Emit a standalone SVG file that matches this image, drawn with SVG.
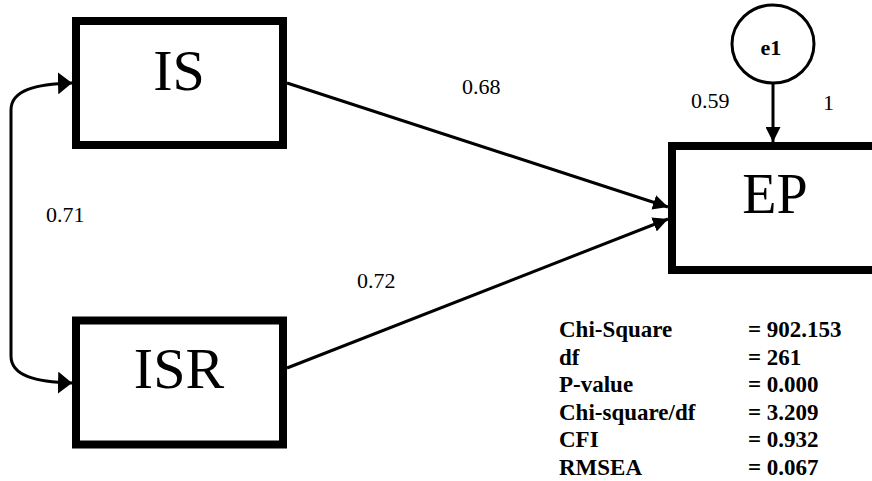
<svg xmlns="http://www.w3.org/2000/svg" width="872" height="481" viewBox="0 0 872 481">
  <style>
    .box { fill: #ffffff; stroke: #000000; stroke-width: 8; }
    .latent { fill: #ffffff; stroke: #000000; stroke-width: 3; }
    text { font-family: 'Liberation Serif', 'Tinos', 'DejaVu Serif', Times, serif; fill: #000000; }
    .name { text-anchor: middle; }
    .coef { font-size: 22px; }
    .fit { font-size: 23px; font-weight: bold; }
    .edge { fill: none; stroke: #000000; stroke-width: 3; }
  </style>
  <defs>
    <marker id="arrow" viewBox="0 0 15 15" refX="15" refY="7.5" markerWidth="15" markerHeight="15" markerUnits="userSpaceOnUse" orient="auto">
      <path d="M0,0 L15,7.5 L0,15 Z" fill="#000000"/>
    </marker>
    <marker id="arrowWide" viewBox="0 0 14 22" refX="14" refY="11" markerWidth="14" markerHeight="22" markerUnits="userSpaceOnUse" orient="auto-start-reverse">
      <path d="M0,0 L14,11 L0,22 Z" fill="#000000"/>
    </marker>
  </defs>

  <rect width="872" height="481" fill="#ffffff"/>

  <!-- connectors -->
  <g id="connectors">
    <path class="edge" d="M72,83 C36,84 11,90 11,110 L11,356 C11,376 36,382 72,383" marker-start="url(#arrowWide)" marker-end="url(#arrowWide)"/>
    <line class="edge" x1="287" y1="83" x2="668" y2="207" marker-end="url(#arrow)"/>
    <line class="edge" x1="287" y1="368" x2="668" y2="219" marker-end="url(#arrow)"/>
    <line class="edge" x1="773" y1="83" x2="773" y2="142" marker-end="url(#arrow)"/>
  </g>

  <!-- nodes -->
  <g id="node-IS">
    <rect class="box" x="76" y="21" width="207" height="124"/>
    <text class="name" x="179" y="90" font-size="58">IS</text>
  </g>
  <g id="node-ISR">
    <rect class="box" x="76" y="320.5" width="207" height="124"/>
    <text class="name" x="179" y="388" font-size="58">ISR</text>
  </g>
  <g id="node-EP">
    <rect class="box" x="672" y="146" width="212" height="124"/>
    <text class="name" x="775" y="213" font-size="56">EP</text>
  </g>
  <g id="node-e1">
    <ellipse class="latent" cx="773" cy="44" rx="41" ry="39"/>
    <text class="name" x="771" y="55" font-size="22" font-weight="bold">e1</text>
  </g>

  <!-- path coefficients -->
  <g id="coefficients">
    <text class="coef" x="462" y="94">0.68</text>
    <text class="coef" x="357" y="288">0.72</text>
    <text class="coef" x="46" y="222">0.71</text>
    <text class="coef" x="691" y="108">0.59</text>
    <text class="coef" x="823" y="110">1</text>
  </g>

  <!-- model fit summary -->
  <g id="fit-indices">
    <text class="fit" x="559" y="337">Chi-Square</text>
    <text class="fit" x="748" y="337">= 902.153</text>
    <text class="fit" x="559" y="364.5">df</text>
    <text class="fit" x="748" y="364.5">= 261</text>
    <text class="fit" x="559" y="392">P-value</text>
    <text class="fit" x="748" y="392">= 0.000</text>
    <text class="fit" x="559" y="419.5">Chi-square/df</text>
    <text class="fit" x="748" y="419.5">= 3.209</text>
    <text class="fit" x="559" y="447">CFI</text>
    <text class="fit" x="748" y="447">= 0.932</text>
    <text class="fit" x="559" y="474.5">RMSEA</text>
    <text class="fit" x="748" y="474.5">= 0.067</text>
  </g>
</svg>
